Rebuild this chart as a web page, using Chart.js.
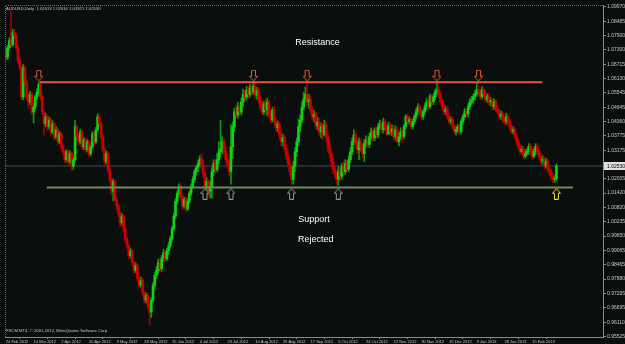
<!DOCTYPE html>
<html><head><meta charset="utf-8">
<script src="https://cdn.jsdelivr.net/npm/chart.js@4.4.0/dist/chart.umd.min.js"></script>
<style>html,body{margin:0;padding:0;background:#0a0e0d;overflow:hidden}canvas{display:block}</style>
</head><body>
<canvas id="c" width="625" height="344"></canvas>
<script>
const symbolTitle = "AUDUSD,Daily  1.02013 1.02616 1.01921 1.02530";
const copyrightText = "FXCM MT4, \u00a9 2001-2012, MetaQuotes Software Corp.";
const dateLabels = ["24 Feb 2012","14 Mar 2012","2 Apr 2012","20 Apr 2012","9 May 2012","28 May 2012","15 Jun 2012","4 Jul 2012","23 Jul 2012","10 Aug 2012","29 Aug 2012","17 Sep 2012","5 Oct 2012","24 Oct 2012","12 Nov 2012","30 Nov 2012","19 Dec 2012","9 Jan 2013","28 Jan 2013","15 Feb 2013"];
const dateBarIndex = [0,16,32,48,64,80,96,112,128,144,160,176,192,208,224,240,256,272,288,304];
const priceTicks = [1.09070,1.08485,1.07900,1.07300,1.06715,1.06130,1.05545,1.04945,1.04360,1.03775,1.03175,1.02590,1.02005,1.01420,1.00820,1.00235,0.99650,0.99065,0.98465,0.97880,0.97295,0.96695,0.96110,0.95525];

const opens = [
1.0728,1.0699,1.0740,1.0768,1.0752,1.0801,1.0789,1.0740,1.0687,1.0658,
1.0536,1.0658,1.0597,1.0536,1.0516,1.0548,1.0475,1.0495,1.0536,1.0556,
1.0589,1.0536,1.0475,1.0426,1.0455,1.0414,1.0442,1.0393,1.0426,1.0373,
1.0402,1.0353,1.0385,1.0332,1.0312,1.0279,1.0312,1.0271,1.0304,1.0251,
1.0279,1.0414,1.0373,1.0353,1.0393,1.0332,1.0361,1.0320,1.0353,1.0304,
1.0332,1.0385,1.0353,1.0402,1.0455,1.0426,1.0373,1.0320,1.0271,1.0304,
1.0239,1.0198,1.0149,1.0190,1.0116,1.0088,1.0059,1.0019,1.0047,0.9994,
0.9953,0.9925,0.9884,0.9904,0.9856,0.9823,0.9843,0.9790,0.9762,0.9782,
0.9733,0.9701,0.9721,0.9680,0.9652,0.9701,0.9762,0.9803,0.9823,0.9856,
0.9831,0.9872,0.9896,0.9872,0.9904,0.9925,0.9953,0.9994,1.0047,1.0108,
1.0141,1.0169,1.0129,1.0088,1.0116,1.0076,1.0108,1.0141,1.0169,1.0198,
1.0230,1.0247,1.0263,1.0283,1.0259,1.0222,1.0165,1.0190,1.0149,1.0169,
1.0230,1.0263,1.0239,1.0279,1.0312,1.0324,1.0353,1.0312,1.0279,1.0259,
1.0230,1.0332,1.0414,1.0475,1.0463,1.0495,1.0475,1.0516,1.0548,1.0536,
1.0565,1.0548,1.0573,1.0556,1.0581,1.0544,1.0565,1.0524,1.0495,1.0475,
1.0508,1.0483,1.0516,1.0467,1.0442,1.0483,1.0434,1.0410,1.0426,1.0381,
1.0353,1.0369,1.0324,1.0292,1.0263,1.0230,1.0198,1.0251,1.0312,1.0353,
1.0414,1.0442,1.0495,1.0528,1.0548,1.0516,1.0528,1.0483,1.0455,1.0467,
1.0418,1.0434,1.0393,1.0414,1.0381,1.0422,1.0373,1.0332,1.0304,1.0271,
1.0239,1.0222,1.0198,1.0230,1.0210,1.0251,1.0230,1.0263,1.0239,1.0279,
1.0312,1.0353,1.0381,1.0345,1.0320,1.0353,1.0328,1.0304,1.0345,1.0361,
1.0341,1.0373,1.0393,1.0369,1.0398,1.0381,1.0414,1.0426,1.0402,1.0434,
1.0410,1.0385,1.0418,1.0393,1.0406,1.0373,1.0402,1.0353,1.0373,1.0393,
1.0375,1.0415,1.0456,1.0436,1.0444,1.0415,1.0436,1.0456,1.0477,1.0497,
1.0477,1.0456,1.0477,1.0497,1.0517,1.0497,1.0538,1.0517,1.0538,1.0558,
1.0566,1.0550,1.0517,1.0497,1.0477,1.0485,1.0456,1.0436,1.0444,1.0415,
1.0395,1.0403,1.0415,1.0395,1.0436,1.0456,1.0477,1.0468,1.0497,1.0517,
1.0525,1.0538,1.0550,1.0566,1.0558,1.0538,1.0566,1.0550,1.0525,1.0538,
1.0517,1.0517,1.0497,1.0517,1.0485,1.0477,1.0456,1.0468,1.0444,1.0436,
1.0456,1.0436,1.0415,1.0395,1.0403,1.0375,1.0354,1.0334,1.0313,1.0322,
1.0293,1.0305,1.0313,1.0334,1.0313,1.0293,1.0313,1.0334,1.0313,1.0293,
1.0273,1.0281,1.0252,1.0273,1.0240,1.0224,1.0212,1.0199,1.0201];

const highs = [
1.0740,1.0750,1.0780,1.0891,1.0815,1.0815,1.0795,1.0750,1.0700,1.0665,
1.0670,1.0665,1.0610,1.0550,1.0560,1.0555,1.0510,1.0545,1.0570,1.0597,
1.0595,1.0545,1.0480,1.0470,1.0460,1.0455,1.0450,1.0440,1.0435,1.0415,
1.0410,1.0395,1.0390,1.0340,1.0320,1.0320,1.0318,1.0315,1.0310,1.0290,
1.0442,1.0420,1.0385,1.0405,1.0400,1.0372,1.0368,1.0362,1.0360,1.0340,
1.0395,1.0392,1.0412,1.0467,1.0462,1.0435,1.0380,1.0330,1.0315,1.0310,
1.0245,1.0205,1.0200,1.0195,1.0125,1.0095,1.0065,1.0058,1.0052,1.0000,
0.9960,0.9932,0.9915,0.9910,0.9862,0.9855,0.9850,0.9798,0.9795,0.9790,
0.9740,0.9732,0.9728,0.9690,0.9712,0.9775,0.9815,0.9840,0.9870,0.9875,
0.9885,0.9910,0.9905,0.9915,0.9940,0.9965,1.0005,1.0060,1.0120,1.0150,
1.0180,1.0175,1.0140,1.0125,1.0125,1.0120,1.0150,1.0180,1.0210,1.0240,
1.0255,1.0275,1.0295,1.0304,1.0279,1.0230,1.0206,1.0198,1.0190,1.0247,
1.0279,1.0279,1.0304,1.0353,1.0442,1.0373,1.0365,1.0332,1.0304,1.0271,
1.0422,1.0434,1.0491,1.0503,1.0516,1.0508,1.0532,1.0569,1.0565,1.0581,
1.0581,1.0589,1.0585,1.0601,1.0597,1.0577,1.0573,1.0540,1.0516,1.0520,
1.0528,1.0532,1.0524,1.0483,1.0495,1.0499,1.0450,1.0438,1.0434,1.0402,
1.0385,1.0377,1.0341,1.0312,1.0279,1.0251,1.0271,1.0328,1.0369,1.0446,
1.0463,1.0516,1.0556,1.0577,1.0605,1.0548,1.0540,1.0499,1.0483,1.0475,
1.0455,1.0450,1.0430,1.0426,1.0442,1.0434,1.0385,1.0353,1.0320,1.0288,
1.0255,1.0239,1.0251,1.0247,1.0263,1.0271,1.0279,1.0275,1.0296,1.0328,
1.0369,1.0402,1.0393,1.0365,1.0369,1.0365,1.0345,1.0361,1.0377,1.0377,
1.0389,1.0410,1.0406,1.0410,1.0410,1.0430,1.0442,1.0438,1.0450,1.0446,
1.0426,1.0434,1.0430,1.0422,1.0418,1.0418,1.0414,1.0389,1.0410,1.0400,
1.0425,1.0465,1.0465,1.0455,1.0450,1.0445,1.0465,1.0490,1.0510,1.0505,
1.0490,1.0485,1.0510,1.0530,1.0525,1.0550,1.0545,1.0550,1.0570,1.0600,
1.0580,1.0560,1.0530,1.0510,1.0500,1.0495,1.0470,1.0455,1.0455,1.0425,
1.0415,1.0425,1.0425,1.0445,1.0465,1.0490,1.0485,1.0510,1.0530,1.0540,
1.0550,1.0565,1.0598,1.0580,1.0570,1.0580,1.0575,1.0560,1.0550,1.0550,
1.0535,1.0530,1.0530,1.0525,1.0500,1.0490,1.0480,1.0475,1.0455,1.0470,
1.0465,1.0445,1.0425,1.0415,1.0410,1.0385,1.0365,1.0345,1.0335,1.0335,
1.0320,1.0325,1.0345,1.0345,1.0325,1.0325,1.0345,1.0345,1.0325,1.0305,
1.0295,1.0290,1.0285,1.0280,1.0255,1.0240,1.0225,1.0215,1.0262];

const lows = [
1.0690,1.0690,1.0730,1.0740,1.0745,1.0775,1.0730,1.0675,1.0645,1.0525,
1.0525,1.0585,1.0525,1.0490,1.0505,1.0465,1.0430,1.0485,1.0525,1.0545,
1.0525,1.0465,1.0381,1.0415,1.0400,1.0405,1.0380,1.0385,1.0360,1.0365,
1.0340,1.0345,1.0320,1.0300,1.0265,1.0270,1.0260,1.0262,1.0235,1.0240,
1.0270,1.0360,1.0340,1.0345,1.0320,1.0322,1.0310,1.0312,1.0290,1.0295,
1.0325,1.0340,1.0345,1.0395,1.0415,1.0362,1.0310,1.0260,1.0262,1.0228,
1.0185,1.0135,1.0110,1.0105,1.0075,1.0045,1.0005,1.0010,0.9982,0.9940,
0.9912,0.9870,0.9875,0.9842,0.9810,0.9815,0.9780,0.9750,0.9755,0.9720,
0.9690,0.9690,0.9665,0.9599,0.9630,0.9690,0.9750,0.9790,0.9810,0.9815,
0.9820,0.9860,0.9860,0.9865,0.9890,0.9915,0.9940,0.9985,1.0035,1.0095,
1.0125,1.0115,1.0075,1.0080,1.0065,1.0070,1.0100,1.0130,1.0160,1.0185,
1.0215,1.0230,1.0250,1.0247,1.0206,1.0149,1.0141,1.0129,1.0121,1.0121,
1.0214,1.0222,1.0230,1.0263,1.0292,1.0304,1.0300,1.0267,1.0243,1.0210,
1.0178,1.0283,1.0393,1.0450,1.0450,1.0459,1.0463,1.0499,1.0516,1.0524,
1.0532,1.0536,1.0544,1.0548,1.0532,1.0528,1.0512,1.0483,1.0463,1.0463,
1.0467,1.0459,1.0450,1.0430,1.0434,1.0422,1.0398,1.0393,1.0361,1.0336,
1.0336,1.0312,1.0279,1.0247,1.0214,1.0178,1.0178,1.0230,1.0292,1.0336,
1.0393,1.0430,1.0483,1.0516,1.0503,1.0491,1.0467,1.0442,1.0434,1.0406,
1.0402,1.0377,1.0369,1.0361,1.0377,1.0353,1.0312,1.0288,1.0251,1.0222,
1.0206,1.0178,1.0173,1.0190,1.0198,1.0214,1.0218,1.0226,1.0230,1.0267,
1.0300,1.0341,1.0328,1.0304,1.0279,1.0312,1.0288,1.0271,1.0332,1.0328,
1.0328,1.0361,1.0353,1.0357,1.0369,1.0369,1.0402,1.0389,1.0389,1.0398,
1.0377,1.0381,1.0381,1.0377,1.0357,1.0361,1.0349,1.0336,1.0361,1.0350,
1.0365,1.0405,1.0425,1.0425,1.0405,1.0405,1.0425,1.0445,1.0465,1.0465,
1.0445,1.0445,1.0465,1.0485,1.0485,1.0490,1.0505,1.0505,1.0525,1.0545,
1.0535,1.0505,1.0485,1.0465,1.0465,1.0445,1.0425,1.0425,1.0405,1.0385,
1.0380,1.0390,1.0380,1.0385,1.0425,1.0445,1.0455,1.0455,1.0485,1.0505,
1.0510,1.0525,1.0540,1.0545,1.0525,1.0530,1.0540,1.0515,1.0515,1.0505,
1.0500,1.0485,1.0485,1.0475,1.0465,1.0445,1.0445,1.0430,1.0425,1.0425,
1.0425,1.0400,1.0385,1.0385,1.0365,1.0340,1.0320,1.0300,1.0305,1.0280,
1.0285,1.0295,1.0300,1.0300,1.0280,1.0285,1.0300,1.0300,1.0280,1.0260,
1.0260,1.0240,1.0245,1.0230,1.0210,1.0195,1.0185,1.0185,1.0192];

const closes = [
1.0699,1.0740,1.0768,1.0752,1.0801,1.0789,1.0740,1.0687,1.0658,1.0536,
1.0658,1.0597,1.0536,1.0516,1.0548,1.0475,1.0495,1.0536,1.0556,1.0589,
1.0536,1.0475,1.0426,1.0455,1.0414,1.0442,1.0393,1.0426,1.0373,1.0402,
1.0353,1.0385,1.0332,1.0312,1.0279,1.0312,1.0271,1.0304,1.0251,1.0279,
1.0414,1.0373,1.0353,1.0393,1.0332,1.0361,1.0320,1.0353,1.0304,1.0332,
1.0385,1.0353,1.0402,1.0455,1.0426,1.0373,1.0320,1.0271,1.0304,1.0239,
1.0198,1.0149,1.0190,1.0116,1.0088,1.0059,1.0019,1.0047,0.9994,0.9953,
0.9925,0.9884,0.9904,0.9856,0.9823,0.9843,0.9790,0.9762,0.9782,0.9733,
0.9701,0.9721,0.9680,0.9652,0.9701,0.9762,0.9803,0.9823,0.9856,0.9831,
0.9872,0.9896,0.9872,0.9904,0.9925,0.9953,0.9994,1.0047,1.0108,1.0141,
1.0169,1.0129,1.0088,1.0116,1.0076,1.0108,1.0141,1.0169,1.0198,1.0230,
1.0247,1.0263,1.0283,1.0259,1.0222,1.0165,1.0190,1.0149,1.0169,1.0230,
1.0263,1.0239,1.0279,1.0312,1.0324,1.0353,1.0312,1.0279,1.0259,1.0230,
1.0332,1.0414,1.0475,1.0463,1.0495,1.0475,1.0516,1.0548,1.0536,1.0565,
1.0548,1.0573,1.0556,1.0581,1.0544,1.0565,1.0524,1.0495,1.0475,1.0508,
1.0483,1.0516,1.0467,1.0442,1.0483,1.0434,1.0410,1.0426,1.0381,1.0353,
1.0369,1.0324,1.0292,1.0263,1.0230,1.0198,1.0251,1.0312,1.0353,1.0414,
1.0442,1.0495,1.0528,1.0548,1.0516,1.0528,1.0483,1.0455,1.0467,1.0418,
1.0434,1.0393,1.0414,1.0381,1.0422,1.0373,1.0332,1.0304,1.0271,1.0239,
1.0222,1.0198,1.0230,1.0210,1.0251,1.0230,1.0263,1.0239,1.0279,1.0312,
1.0353,1.0381,1.0345,1.0320,1.0353,1.0328,1.0304,1.0345,1.0361,1.0341,
1.0373,1.0393,1.0369,1.0398,1.0381,1.0414,1.0426,1.0402,1.0434,1.0410,
1.0385,1.0418,1.0393,1.0406,1.0373,1.0402,1.0353,1.0373,1.0393,1.0375,
1.0415,1.0456,1.0436,1.0444,1.0415,1.0436,1.0456,1.0477,1.0497,1.0477,
1.0456,1.0477,1.0497,1.0517,1.0497,1.0538,1.0517,1.0538,1.0558,1.0566,
1.0550,1.0517,1.0497,1.0477,1.0485,1.0456,1.0436,1.0444,1.0415,1.0395,
1.0403,1.0415,1.0395,1.0436,1.0456,1.0477,1.0468,1.0497,1.0517,1.0525,
1.0538,1.0550,1.0566,1.0558,1.0538,1.0566,1.0550,1.0525,1.0538,1.0517,
1.0517,1.0497,1.0517,1.0485,1.0477,1.0456,1.0468,1.0444,1.0436,1.0456,
1.0436,1.0415,1.0395,1.0403,1.0375,1.0354,1.0334,1.0313,1.0322,1.0293,
1.0305,1.0313,1.0334,1.0313,1.0293,1.0313,1.0334,1.0313,1.0293,1.0273,
1.0281,1.0252,1.0273,1.0240,1.0224,1.0212,1.0199,1.0199,1.0253];

const lastPrice = 1.02530;
const resistanceLevel = 1.0597;
const resistanceFromBar = 19.5, resistanceToBar = 309.8;
const supportLevel = 1.0165;
const supportFromBar = 23.6, supportToBar = 327.6;
const resistanceArrowBars = [19, 143, 174, 249, 273];
const supportArrowBars = [115, 130, 165, 192];
const rejectedArrowBars = [318];
const notes = ["Resistance", "Support", "Rejected"];

// ---- layout / style (not data) ----
const BG = '#0a0e0d';
const downArrowPrice = 1.0624, upArrowPrice = 1.0139;
const notePlace = [{bar:180, price:1.0760}, {bar:178, price:1.0035}, {bar:179, price:0.9949}];

function arrowImg(dir, stroke){
  const w=9,h=12, c=document.createElement('canvas'); c.width=w; c.height=h;
  const g=c.getContext('2d'); g.strokeStyle=stroke; g.lineWidth=1; g.fillStyle=BG;
  const pts=[[2.5,0.5],[6.5,0.5],[6.5,6.5],[8.5,6.5],[4.5,11.2],[0.5,6.5],[2.5,6.5]];
  g.beginPath();
  pts.forEach((p,i)=>{const y = dir==='down'?p[1]:h-p[1]; i?g.lineTo(p[0],y):g.moveTo(p[0],y);});
  g.closePath(); g.fill(); g.stroke(); return c;
}
const imgDown = arrowImg('down','#d8603c');
const imgUp = arrowImg('up','#8fa08a');
const imgUpY = arrowImg('up','#e8e020');

const up = i => closes[i] >= opens[i];
const UP_BODY='#12d212', UP_WICK='#0c9c0c', DN_BODY='#cc0000', DN_WICK='#a00000';

const wickData = closes.map((c,i)=>({x:i, y:[lows[i], highs[i]]}));
const bodyData = closes.map((c,i)=>({x:i, y:[Math.min(opens[i],c), Math.max(opens[i],c)]}));

const overlay = {
  id:'overlay',
  beforeDraw(ch){ const g=ch.ctx; g.save(); g.fillStyle=BG; g.fillRect(0,0,ch.width,ch.height); g.restore(); },
  afterDraw(ch){
    const g=ch.ctx, a=ch.chartArea, xs=ch.scales.x, ys=ch.scales.y;
    g.save();
    g.strokeStyle='#6a6a6a'; g.lineWidth=1; g.setLineDash([1,1]);
    g.beginPath(); g.moveTo(a.left+0.5,a.bottom); g.lineTo(a.left+0.5,a.top+0.5); g.lineTo(a.right,a.top+0.5); g.stroke();
    g.setLineDash([]);
    g.fillStyle='#c8c8c8'; g.font='4.2px "Liberation Sans", Arial, sans-serif'; g.textBaseline='middle'; g.textAlign='left';
    g.fillText(symbolTitle, a.left+1, a.top+4);
    g.fillText(copyrightText, a.left+1, a.bottom-6);
    g.fillStyle='#ffffff'; g.font='9px "Liberation Sans", Arial, sans-serif'; g.textAlign='center';
    notes.forEach((t,i)=>g.fillText(t, xs.getPixelForValue(notePlace[i].bar), ys.getPixelForValue(notePlace[i].price)));
    const py = Math.round(ys.getPixelForValue(lastPrice));
    g.fillStyle='#e0e0e0'; g.fillRect(a.right+1, py-4, ch.width-a.right-1, 8);
    g.fillStyle='#000000'; g.font='5px "Liberation Sans", Arial, sans-serif'; g.textAlign='left';
    g.fillText(lastPrice.toFixed(5), a.right+4, py+0.5);
    g.restore();
  }
};

new Chart(document.getElementById('c'), {
  type:'bar',
  data:{ datasets:[
    {type:'line', label:'resistance', data:[{x:resistanceFromBar,y:resistanceLevel},{x:resistanceToBar,y:resistanceLevel}], borderColor:'#e8583e', borderWidth:2, pointRadius:0, order:1},
    {type:'line', label:'support', data:[{x:supportFromBar,y:supportLevel},{x:supportToBar,y:supportLevel}], borderColor:'#6f8a5e', borderWidth:2, pointRadius:0, order:1},
    {type:'line', label:'bid', data:[{x:-1,y:lastPrice},{x:400,y:lastPrice}], borderColor:'#3c4c5c', borderWidth:1, pointRadius:0, order:20},
    {type:'line', label:'res arrows', data:resistanceArrowBars.map(b=>({x:b,y:downArrowPrice})), showLine:false, pointStyle:imgDown, order:0},
    {type:'line', label:'sup arrows', data:supportArrowBars.map(b=>({x:b,y:upArrowPrice})), showLine:false, pointStyle:imgUp, order:0},
    {type:'line', label:'rej arrows', data:rejectedArrowBars.map(b=>({x:b,y:upArrowPrice})), showLine:false, pointStyle:imgUpY, order:0},
    {label:'bodies', data:bodyData, grouped:false, barThickness:2, minBarLength:1, order:5,
      backgroundColor:c=>up(c.dataIndex)?UP_BODY:DN_BODY, borderWidth:0},
    {label:'wicks', data:wickData, grouped:false, barThickness:1, order:6,
      backgroundColor:c=>up(c.dataIndex)?UP_WICK:DN_WICK, borderWidth:0}
  ]},
  options:{
    responsive:false, devicePixelRatio:1, animation:false,
    layout:{padding:{left:2, top:2, right:0, bottom:0}},
    plugins:{legend:{display:false}, tooltip:{enabled:false}},
    scales:{
      x:{type:'linear', min:-0.5, max:344.9, offset:false,
        afterBuildTicks:s=>{ s.ticks = dateBarIndex.map(v=>({value:v})); },
        afterFit:s=>{ s.height=7; },
        grid:{display:true, drawOnChartArea:false, drawTicks:true, tickLength:2, color:'#8a8a8a'},
        border:{display:true, color:'#8a8a8a'},
        ticks:{autoSkip:false, maxRotation:0, minRotation:0, align:'start', padding:0, color:'#c8c8c8',
          font:{family:'"Liberation Sans", Arial, sans-serif', size:4}, callback:v=>{const k=dateBarIndex.indexOf(v); return k<0?'':dateLabels[k];}}
      },
      y:{type:'linear', position:'right', min:0.95500, max:1.09150,
        afterBuildTicks:s=>{ s.ticks = priceTicks.map(v=>({value:v})); },
        afterFit:s=>{ s.width=22; },
        grid:{display:true, drawOnChartArea:false, drawTicks:true, tickLength:3, color:'#8a8a8a'},
        border:{display:true, color:'#8a8a8a'},
        ticks:{autoSkip:false, padding:1, color:'#c8c8c8',
          font:{family:'"Liberation Sans", Arial, sans-serif', size:5}, callback:v=>v.toFixed(5)}
      }
    }
  },
  plugins:[overlay]
});
</script>
</body></html>
